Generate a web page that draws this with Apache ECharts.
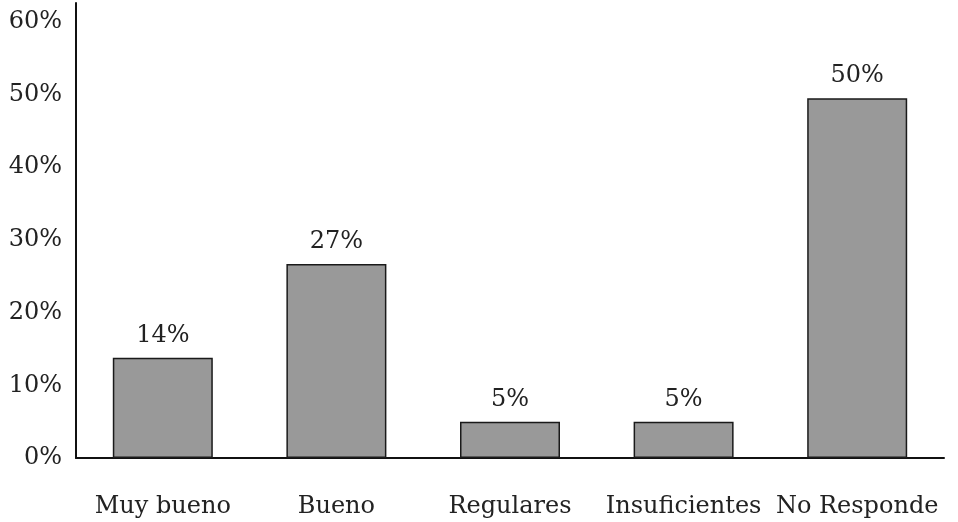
<!DOCTYPE html>
<html><head><meta charset="utf-8">
<script src="https://cdn.jsdelivr.net/npm/echarts@6/dist/echarts.min.js"></script>
<style>html,body{margin:0;padding:0;background:#fff}#c{width:958px;height:522px}</style>
</head><body><div id="c"></div>
<script>
const categories = ['Muy bueno', 'Bueno', 'Regulares', 'Insuficientes', 'No Responde'];
const values = [13.8, 26.7, 5.0, 5.0, 49.5];
const yTicks = [0, 10, 20, 30, 40, 50, 60];

const FONT = 'DejaVu Serif';
const chart = echarts.init(document.getElementById('c'));
chart.setOption({
  animation: false,
  textStyle: { fontFamily: FONT },
  grid: { left: 76, right: 14, top: 3, bottom: 64 },
  xAxis: {
    type: 'category',
    data: categories,
    axisLine: { lineStyle: { color: '#111', width: 2 } },
    axisTick: { show: false },
    axisLabel: { color: '#222', fontSize: 24, fontFamily: FONT, margin: 37, interval: 0 }
  },
  yAxis: {
    type: 'value',
    min: 0, max: 62.6, interval: 10,
    splitLine: { show: false },
    axisLine: { show: true, lineStyle: { color: '#111', width: 2 } },
    axisTick: { show: false },
    axisLabel: {
      color: '#222', fontSize: 24, fontFamily: FONT, margin: 14,
      formatter: v => yTicks.indexOf(v) >= 0 ? v + '%' : ''
    }
  },
  series: [{
    type: 'bar',
    data: values,
    barWidth: 100,
    itemStyle: { color: '#999999', borderColor: '#1a1a1a', borderWidth: 1.5 },
    label: {
      show: true, position: 'top', distance: 10,
      color: '#222', fontSize: 24, fontFamily: FONT,
      formatter: p => Math.round(p.value) + '%'
    }
  }]
});
</script></body></html>
